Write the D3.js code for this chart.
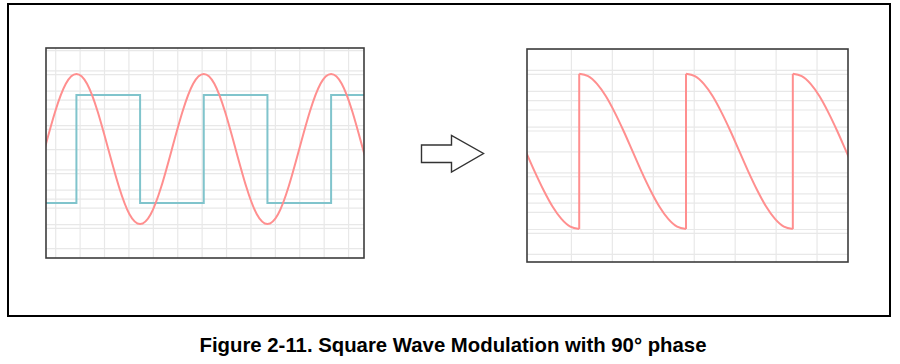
<!DOCTYPE html>
<html>
<head>
<meta charset="utf-8">
<script src="https://cdn.jsdelivr.net/npm/d3@7"></script>
<style>
  html, body { margin: 0; padding: 0; background: #fff; }
  svg { display: block; }
</style>
</head>
<body>
<div id="chart"></div>
<script>
const W = 900, H = 364;

// input: sine carrier (phase in degrees) and the 90° square reference
const sineT = [-90, -60, -30, 0, 30, 60, 90, 120, 150, 180, 210, 240, 270, 300, 330, 360,
  390, 420, 450, 480, 510, 540, 570, 600, 630, 660, 690, 720, 750, 780, 810, 840];
const sineV = [0, 0.5, 0.87, 1, 0.87, 0.5, 0, -0.5, -0.87, -1, -0.87, -0.5, 0, 0.5, 0.87, 1,
  0.87, 0.5, 0, -0.5, -0.87, -1, -0.87, -0.5, 0, 0.5, 0.87, 1, 0.87, 0.5, 0, -0.5];

const squareT = [-90, 0, 180, 360, 540, 720, 840];
const squareV = [-0.72, 0.72, -0.72, 0.72, -0.72, 0.72, 0.72];

// output after modulation (repeated t = jump)
const outT = [-90, -75, -60, -45, -30, -15, 0,
  0, 15, 30, 45, 60, 75, 90, 105, 120, 135, 150, 165, 180,
  180, 195, 210, 225, 240, 255, 270, 285, 300, 315, 330, 345, 360,
  360, 375, 390, 405, 420, 435, 450, 465, 480];
const outV = [0, -0.26, -0.5, -0.71, -0.87, -0.97, -1,
  1, 0.97, 0.87, 0.71, 0.5, 0.26, 0, -0.26, -0.5, -0.71, -0.87, -0.97, -1,
  1, 0.97, 0.87, 0.71, 0.5, 0.26, 0, -0.26, -0.5, -0.71, -0.87, -0.97, -1,
  1, 0.97, 0.87, 0.71, 0.5, 0.26, 0, -0.26, -0.5];

// screen grid
const gridLeftX = [-60, 9, 78, 147, 216, 285, 354, 423, 492, 561, 630, 699, 768];
const gridRightX = [-14, 55, 124, 193, 262, 331, 400];
const gridY = [1.32, 1.05, 1, 0.78, 0.66, 0.54, 0.32, 0.27, 0, -0.27, -0.32, -0.54, -0.66, -0.78, -1, -1.05, -1.32];

const titleText = "Figure 2-11. Square Wave Modulation with 90° phase";

const svg = d3.select("#chart")
  .append("svg")
  .attr("width", W)
  .attr("height", H);

// outer frame
svg.append("rect")
  .attr("x", 8).attr("y", 4)
  .attr("width", 882).attr("height", 312)
  .attr("fill", "none")
  .attr("stroke", "#000")
  .attr("stroke-width", 2);

function panel(id, x0, x1, y0, y1, xDom, yDom, gridX) {
  const x = d3.scaleLinear().domain(xDom).range([x0, x1]);
  const y = d3.scaleLinear().domain(yDom).range([y1, y0]);
  const g = svg.append("g");

  g.append("clipPath").attr("id", id)
    .append("rect")
    .attr("x", x0).attr("y", y0)
    .attr("width", x1 - x0).attr("height", y1 - y0);

  g.append("g")
    .attr("transform", `translate(0,${y1})`)
    .call(d3.axisBottom(x).tickValues(gridX).tickSize(-(y1 - y0)).tickFormat(""))
    .call(a => a.select(".domain").remove())
    .call(a => a.selectAll("line").attr("stroke", "#e8e8e8").attr("stroke-width", 1.2));

  g.append("g")
    .attr("transform", `translate(${x0},0)`)
    .call(d3.axisLeft(y).tickValues(gridY).tickSize(-(x1 - x0)).tickFormat(""))
    .call(a => a.select(".domain").remove())
    .call(a => a.selectAll("line").attr("stroke", "#e8e8e8").attr("stroke-width", 1.2));

  const plot = g.append("g").attr("clip-path", `url(#${id})`);

  g.append("rect")
    .attr("x", x0).attr("y", y0)
    .attr("width", x1 - x0).attr("height", y1 - y0)
    .attr("fill", "none")
    .attr("stroke", "#3c3c3c")
    .attr("stroke-width", 1.6);

  return { x, y, plot };
}

// left: input
const L = panel("clipL", 46, 364, 48, 258, [-86, 813], [-1.453, 1.347], gridLeftX);

L.plot.append("path")
  .datum(squareT.map((t, i) => [t, squareV[i]]))
  .attr("fill", "none")
  .attr("stroke", "#80c4cc")
  .attr("stroke-width", 2)
  .attr("d", d3.line().x(d => L.x(d[0])).y(d => L.y(d[1])).curve(d3.curveStepAfter));

L.plot.append("path")
  .datum(sineT.map((t, i) => [t, sineV[i]]))
  .attr("fill", "none")
  .attr("stroke", "#ff8f8f")
  .attr("stroke-width", 2)
  .attr("d", d3.line().x(d => L.x(d[0])).y(d => L.y(d[1])).curve(d3.curveNatural));

// right: output
const R = panel("clipR", 527, 848, 49, 262, [-88, 453], [-1.425, 1.32], gridRightX);

const segs = [];
outT.forEach((t, i) => {
  if (i === 0 || t === outT[i - 1]) segs.push([]);
  segs[segs.length - 1].push([t, outV[i]]);
});

const outLine = d3.line().x(d => R.x(d[0])).y(d => R.y(d[1]));

segs.forEach((s, i) => {
  R.plot.append("path")
    .datum(s)
    .attr("fill", "none")
    .attr("stroke", "#ff8f8f")
    .attr("stroke-width", 2)
    .attr("d", outLine.curve(d3.curveMonotoneX));
  if (i > 0) {
    const prev = segs[i - 1];
    R.plot.append("path")
      .datum([prev[prev.length - 1], s[0]])
      .attr("fill", "none")
      .attr("stroke", "#ff8f8f")
      .attr("stroke-width", 2)
      .attr("d", outLine.curve(d3.curveLinear));
  }
});

// arrow between the panels
const ax = 421.5, ay = 153.5;
svg.append("path")
  .attr("d", `M${ax},${ay - 8.5} H${ax + 30} V${ay - 18} L${ax + 62},${ay} L${ax + 30},${ay + 18.5} V${ay + 9} H${ax} Z`)
  .attr("fill", "#fff")
  .attr("stroke", "#333")
  .attr("stroke-width", 1.4)
  .attr("stroke-linejoin", "miter");

svg.append("text")
  .attr("x", 453)
  .attr("y", 352)
  .attr("text-anchor", "middle")
  .attr("font-family", "Liberation Sans, Arial, sans-serif")
  .attr("font-weight", "bold")
  .attr("font-size", 20.5)
  .attr("textLength", 507)
  .attr("lengthAdjust", "spacingAndGlyphs")
  .text(titleText);
</script>
</body>
</html>
